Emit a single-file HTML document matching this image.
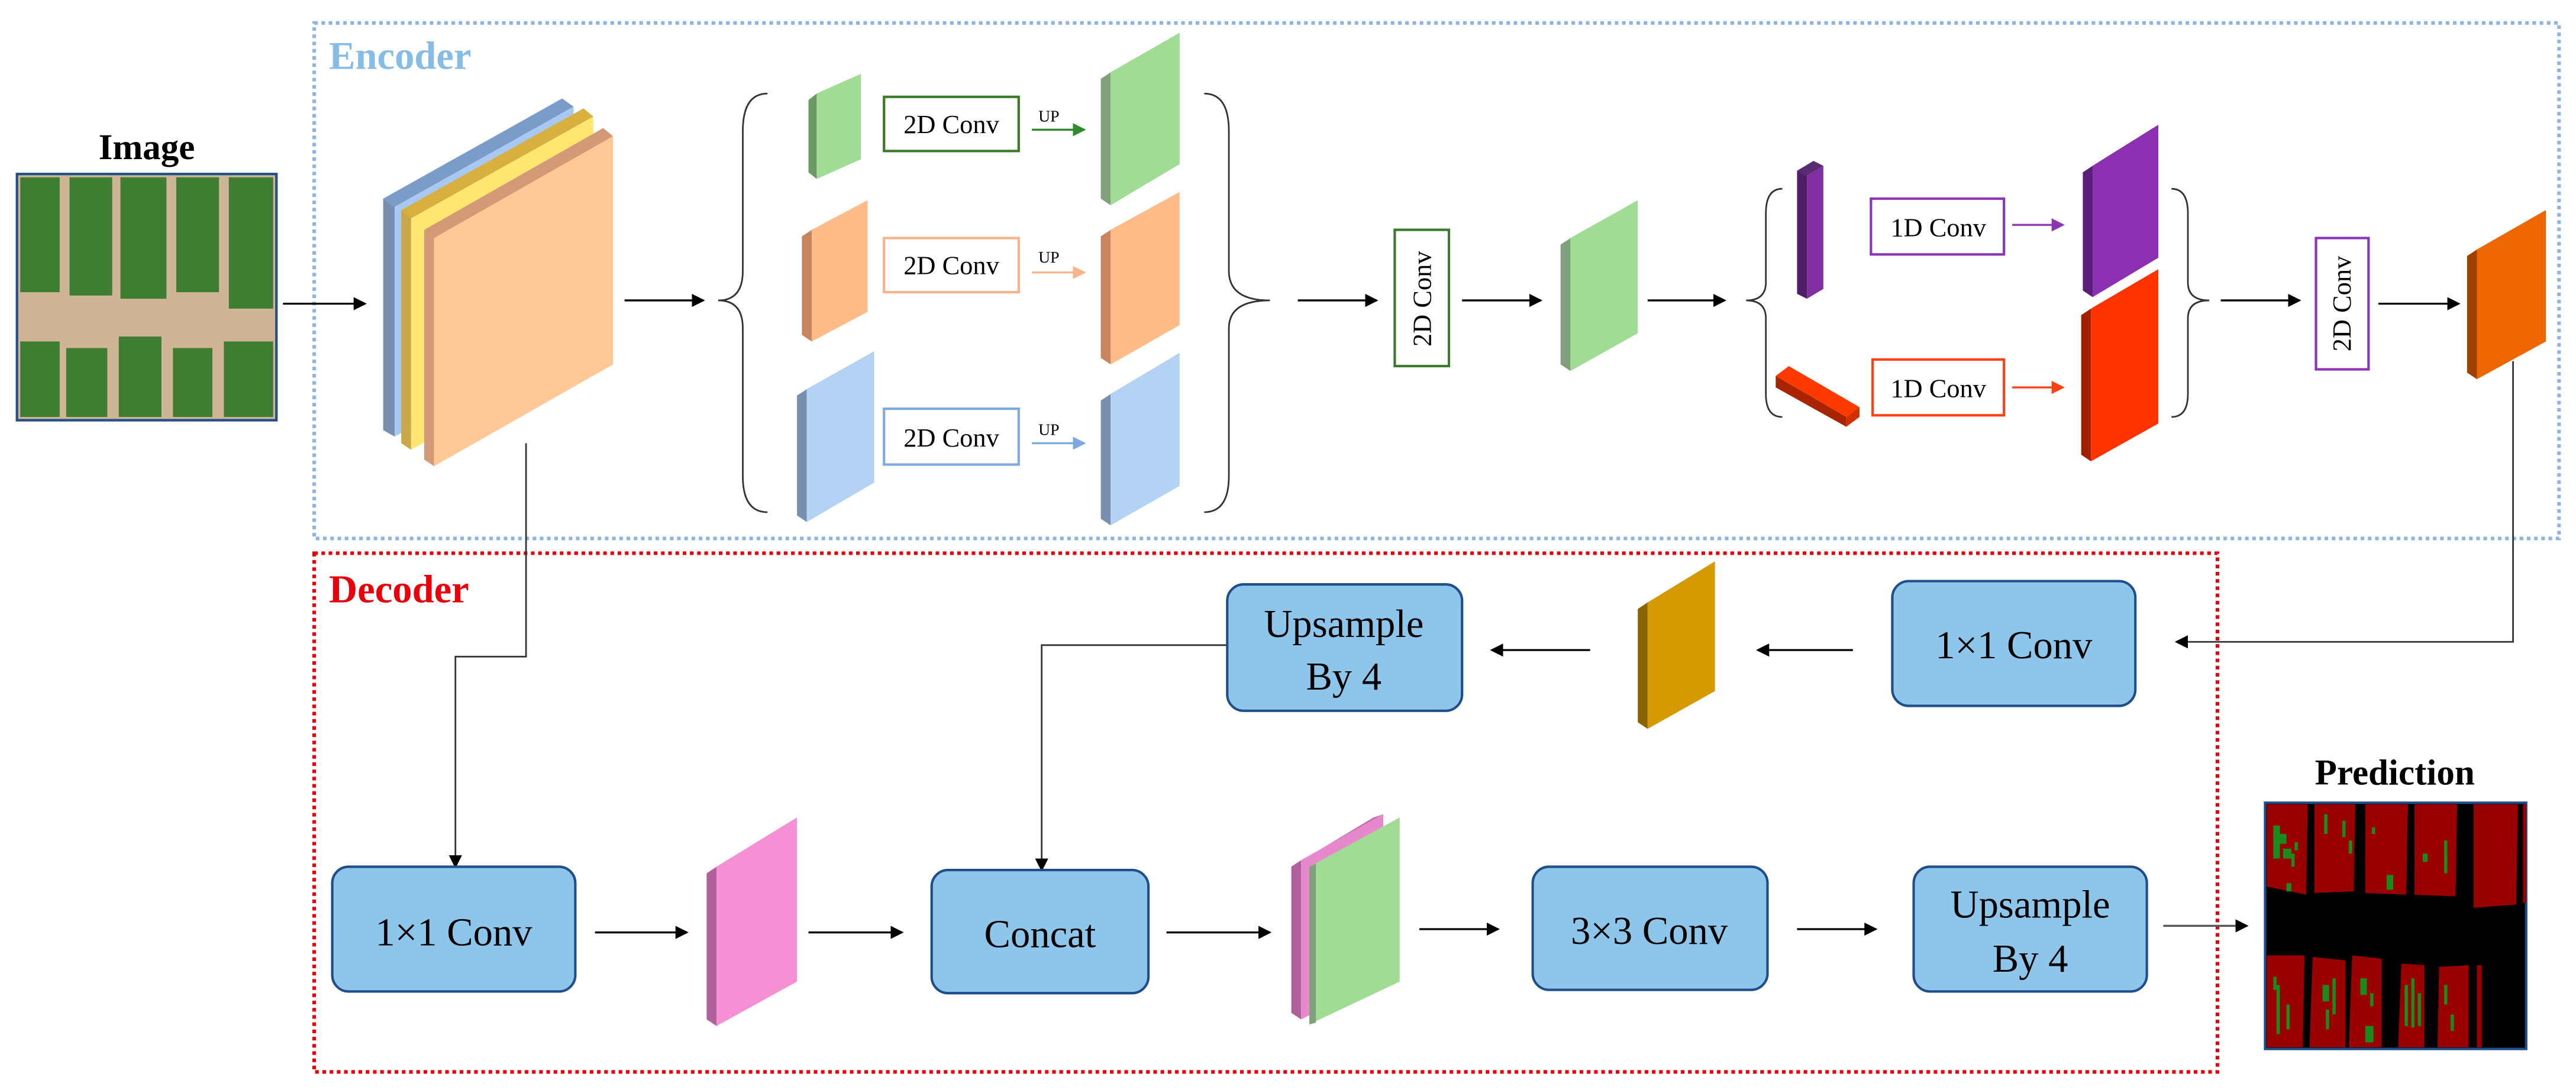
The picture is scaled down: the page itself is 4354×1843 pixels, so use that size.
<!DOCTYPE html>
<html><head><meta charset="utf-8"><style>html,body{margin:0;padding:0;background:#fff}svg{display:block}</style></head>
<body>
<svg xmlns="http://www.w3.org/2000/svg" width="4354" height="1843" viewBox="0 0 1568 664" font-family="'Liberation Serif', serif">
<defs>
<marker id="ak" markerWidth="8" markerHeight="8" refX="7" refY="4" orient="auto" markerUnits="userSpaceOnUse"><path d="M0,0 L8,4 L0,8 z" fill="#000"/></marker>
<marker id="ag" markerWidth="8" markerHeight="8" refX="7" refY="4" orient="auto" markerUnits="userSpaceOnUse"><path d="M0,0 L8,4 L0,8 z" fill="#2e8b2e"/></marker>
<marker id="ao" markerWidth="8" markerHeight="8" refX="7" refY="4" orient="auto" markerUnits="userSpaceOnUse"><path d="M0,0 L8,4 L0,8 z" fill="#f8b488"/></marker>
<marker id="ab" markerWidth="8" markerHeight="8" refX="7" refY="4" orient="auto" markerUnits="userSpaceOnUse"><path d="M0,0 L8,4 L0,8 z" fill="#7ea8e0"/></marker>
<marker id="ap" markerWidth="8" markerHeight="8" refX="7" refY="4" orient="auto" markerUnits="userSpaceOnUse"><path d="M0,0 L8,4 L0,8 z" fill="#8a35b5"/></marker>
<marker id="ar" markerWidth="8" markerHeight="8" refX="7" refY="4" orient="auto" markerUnits="userSpaceOnUse"><path d="M0,0 L8,4 L0,8 z" fill="#ff4010"/></marker>
</defs>

<rect x="191" y="14" width="1367" height="314" fill="none" stroke="#8fb4e3" stroke-width="2.2" stroke-dasharray="2.2,2.2"/>
<text x="200" y="42" font-size="24" font-weight="bold" fill="#86bde6">Encoder</text>
<rect x="191" y="337" width="1159" height="316" fill="none" stroke="#e8000b" stroke-width="2.2" stroke-dasharray="2.2,2.2"/>
<text x="200" y="367" font-size="24" font-weight="bold" fill="#e8000b">Decoder</text>

<text x="89" y="97" font-size="22" font-weight="bold" text-anchor="middle">Image</text>
<rect x="10" y="106" width="158" height="150" fill="#cdb596" stroke="#1f4e8a" stroke-width="1.5"/>
<g fill="#3e7d32">
<rect x="12" y="108" width="24" height="70"/><rect x="42" y="108" width="26" height="72"/><rect x="73" y="108" width="28" height="74"/><rect x="107" y="108" width="26" height="70"/><rect x="139" y="108" width="27" height="80"/>
<rect x="12" y="208" width="24" height="46"/><rect x="40" y="212" width="25" height="42"/><rect x="72" y="205" width="26" height="49"/><rect x="105" y="212" width="24" height="42"/><rect x="136" y="208" width="30" height="46"/>
</g>

<line x1="172" y1="185" x2="222" y2="185" stroke="#000" stroke-width="1.2" marker-end="url(#ak)"/>

<g stroke-width="1">
<polygon points="233,121 240,126 240,266 233,262" fill="#7890b0"/><polygon points="233,121 342,60 349,65 240,126" fill="#7a9cc8"/><polygon points="240,126 349,65 349,205 240,266" fill="#a8c8f2"/>
<polygon points="244,128 250,133 250,274 244,270" fill="#c8a848"/><polygon points="244,128 355,66 361,71 250,133" fill="#d8b040"/><polygon points="250,133 361,71 361,212 250,274" fill="#ffe670"/>
<polygon points="258,140 264,145 264,284 258,280" fill="#d49a78"/><polygon points="258,140 367,78 373,83 264,145" fill="#d49a78"/><polygon points="264,145 373,83 373,222 264,284" fill="#ffc896"/>
</g>
<line x1="380" y1="183" x2="428" y2="183" stroke="#000" stroke-width="1.2" marker-end="url(#ak)"/>

<path d="M467,57 Q452,57 452,80 L452,165 Q452,183 437,183 Q452,183 452,200 L452,290 Q452,312 467,312" fill="none" stroke="#333" stroke-width="1"/>

<polygon points="492,61 497,57 497,109 492,105" fill="#6a9a60"/><polygon points="492,61 519,49 524,45 497,57" fill="#6a9a60"/><polygon points="497,57 524,45 524,97 497,109" fill="#a0dc94"/>
<rect x="538" y="59" width="82" height="33" fill="#fff" stroke="#3a7a2a" stroke-width="1.5"/>
<text x="579" y="81" font-size="16" text-anchor="middle">2D Conv</text>
<text x="632" y="74" font-size="10">UP</text>
<line x1="628" y1="79" x2="660" y2="79" stroke="#2e8b2e" stroke-width="1.2" marker-end="url(#ag)"/>
<polygon points="670,48 676,44 676,125 670,121" fill="#7fa07a"/><polygon points="670,48 712,24 718,20 676,44" fill="#8ab884"/><polygon points="676,44 718,20 718,100 676,125" fill="#a0dc94"/>

<polygon points="488,144 494,140 494,208 488,204" fill="#c8845e"/><polygon points="488,144 522,126 528,122 494,140" fill="#d49070"/><polygon points="494,140 528,122 528,190 494,208" fill="#ffbb88"/>
<rect x="538" y="145" width="82" height="33" fill="#fff" stroke="#f8b488" stroke-width="1.5"/>
<text x="579" y="167" font-size="16" text-anchor="middle">2D Conv</text>
<text x="632" y="160" font-size="10">UP</text>
<line x1="628" y1="166" x2="660" y2="166" stroke="#f8b488" stroke-width="1.2" marker-end="url(#ao)"/>
<polygon points="670,144 676,140 676,222 670,218" fill="#c8845e"/><polygon points="670,144 712,121 718,117 676,140" fill="#d49070"/><polygon points="676,140 718,117 718,198 676,222" fill="#ffbb88"/>

<polygon points="485,241 491,237 491,318 485,314" fill="#7890b0"/><polygon points="485,241 526,218 532,214 491,237" fill="#8aa4c8"/><polygon points="491,237 532,214 532,294 491,318" fill="#b4d2f4"/>
<rect x="538" y="249" width="82" height="34" fill="#fff" stroke="#7ea8e0" stroke-width="1.5"/>
<text x="579" y="272" font-size="16" text-anchor="middle">2D Conv</text>
<text x="632" y="265" font-size="10">UP</text>
<line x1="628" y1="270" x2="660" y2="270" stroke="#7ea8e0" stroke-width="1.2" marker-end="url(#ab)"/>
<polygon points="670,244 676,240 676,320 670,316" fill="#7890b0"/><polygon points="670,244 712,219 718,215 676,240" fill="#8aa4c8"/><polygon points="676,240 718,215 718,296 676,320" fill="#b4d2f4"/>

<path d="M733,57 Q748,57 748,80 L748,165 Q748,183 773,183 Q748,183 748,200 L748,290 Q748,312 733,312" fill="none" stroke="#333" stroke-width="1"/>
<line x1="790" y1="183" x2="838" y2="183" stroke="#000" stroke-width="1.2" marker-end="url(#ak)"/>

<rect x="849" y="140" width="33" height="83" fill="#fff" stroke="#3a7a2a" stroke-width="1.5"/>
<text x="871" y="182" font-size="16" text-anchor="middle" transform="rotate(-90 871 182)">2D Conv</text>
<line x1="890" y1="183" x2="938" y2="183" stroke="#000" stroke-width="1.2" marker-end="url(#ak)"/>
<polygon points="950,149 956,145 956,226 950,222" fill="#7fa07a"/><polygon points="950,149 991,126 997,122 956,145" fill="#8ab884"/><polygon points="956,145 997,122 997,203 956,226" fill="#a0dc94"/>
<line x1="1003" y1="183" x2="1050" y2="183" stroke="#000" stroke-width="1.2" marker-end="url(#ak)"/>

<path d="M1085,115 Q1075,115 1075,130 L1075,172 Q1075,183 1063,183 Q1075,183 1075,194 L1075,240 Q1075,254 1085,254" fill="none" stroke="#333" stroke-width="1"/>
<polygon points="1094,104 1100,107 1100,182 1094,179" fill="#4e1e66"/><polygon points="1094,104 1104,98 1110,101 1100,107" fill="#5a2a72"/><polygon points="1100,107 1110,101 1110,176 1100,182" fill="#8030a0"/>
<rect x="1139" y="121" width="81" height="34" fill="#fff" stroke="#8a35b5" stroke-width="1.5"/>
<text x="1180" y="144" font-size="16" text-anchor="middle">1D Conv</text>
<line x1="1225" y1="137" x2="1256" y2="137" stroke="#8a35b5" stroke-width="1.2" marker-end="url(#ap)"/>
<polygon points="1268,105 1274,101 1274,181 1268,177" fill="#5a1e7a"/><polygon points="1268,105 1308,80 1314,76 1274,101" fill="#6a2490"/><polygon points="1274,101 1314,76 1314,157 1274,181" fill="#8a30b0"/>

<polygon points="1081,229 1089,223 1132,248 1124,254" fill="#ff3a00"/><polygon points="1081,229 1124,254 1124,260 1081,236" fill="#a82400"/><polygon points="1124,254 1132,248 1132,254 1124,260" fill="#d03000"/>
<rect x="1140" y="219" width="80" height="34" fill="#fff" stroke="#ff4010" stroke-width="1.5"/>
<text x="1180" y="242" font-size="16" text-anchor="middle">1D Conv</text>
<line x1="1225" y1="236" x2="1256" y2="236" stroke="#ff4010" stroke-width="1.2" marker-end="url(#ar)"/>
<polygon points="1267,192 1273,188 1273,281 1267,277" fill="#a02000"/><polygon points="1267,192 1308,168 1314,164 1273,188" fill="#b82800"/><polygon points="1273,188 1314,164 1314,258 1273,281" fill="#ff3300"/>

<path d="M1322,115 Q1332,115 1332,130 L1332,172 Q1332,183 1345,183 Q1332,183 1332,194 L1332,240 Q1332,254 1322,254" fill="none" stroke="#333" stroke-width="1"/>
<line x1="1352" y1="183" x2="1400" y2="183" stroke="#000" stroke-width="1.2" marker-end="url(#ak)"/>
<rect x="1410" y="145" width="32" height="80" fill="#fff" stroke="#8a35b5" stroke-width="1.5"/>
<text x="1431" y="185" font-size="16" text-anchor="middle" transform="rotate(-90 1431 185)">2D Conv</text>
<line x1="1448" y1="185" x2="1497" y2="185" stroke="#000" stroke-width="1.2" marker-end="url(#ak)"/>
<polygon points="1502,156 1508,152 1508,231 1502,227" fill="#a04000"/><polygon points="1502,156 1544,132 1550,128 1508,152" fill="#b84800"/><polygon points="1508,152 1550,128 1550,208 1508,231" fill="#ee6600"/>

<polyline points="1530,220 1530,391 1325,391" fill="none" stroke="#333" stroke-width="1" marker-end="url(#ak)"/>
<polyline points="320,270 320,400 277,400 277,528" fill="none" stroke="#333" stroke-width="1" marker-end="url(#ak)"/>
<polyline points="748,393 634,393 634,530" fill="none" stroke="#333" stroke-width="1" marker-end="url(#ak)"/>

<g font-size="24" text-anchor="middle">
<rect x="1152" y="354" width="148" height="76" rx="10" fill="#8ec5ea" stroke="#1f4e8a" stroke-width="1.5"/>
<text x="1226" y="401">1×1 Conv</text>
<line x1="1128" y1="396" x2="1070" y2="396" stroke="#000" stroke-width="1.2" marker-end="url(#ak)"/>
<polygon points="997,371 1003,367 1003,444 997,440" fill="#8a6400"/><polygon points="997,371 1038,346 1044,342 1003,367" fill="#9a7000"/><polygon points="1003,367 1044,342 1044,421 1003,444" fill="#d49a00"/>
<line x1="968" y1="396" x2="908" y2="396" stroke="#000" stroke-width="1.2" marker-end="url(#ak)"/>
<rect x="747" y="356" width="143" height="77" rx="10" fill="#8ec5ea" stroke="#1f4e8a" stroke-width="1.5"/>
<text x="818" y="388">Upsample</text><text x="818" y="420">By 4</text>

<rect x="202" y="528" width="148" height="76" rx="10" fill="#8ec5ea" stroke="#1f4e8a" stroke-width="1.5"/>
<text x="276" y="576">1×1 Conv</text>
<line x1="362" y1="568" x2="418" y2="568" stroke="#000" stroke-width="1.2" marker-end="url(#ak)"/>
<polygon points="430,532 436,528 436,625 430,621" fill="#b0609a"/><polygon points="430,532 479,502 485,498 436,528" fill="#c070a8"/><polygon points="436,528 485,498 485,598 436,625" fill="#f590d4"/>
<line x1="492" y1="568" x2="549" y2="568" stroke="#000" stroke-width="1.2" marker-end="url(#ak)"/>
<rect x="567" y="530" width="132" height="75" rx="10" fill="#8ec5ea" stroke="#1f4e8a" stroke-width="1.5"/>
<text x="633" y="577">Concat</text>
<line x1="710" y1="568" x2="773" y2="568" stroke="#000" stroke-width="1.2" marker-end="url(#ak)"/>
<polygon points="786,528 792,524 792,621 786,617" fill="#b0609a"/><polygon points="786,528 836,498 842,496 792,524" fill="#c070a8"/><polygon points="792,524 842,496 842,596 792,621" fill="#e888cc"/>
<polygon points="797,528 852,498 852,598 797,624" fill="#a0dc94"/><polygon points="797,528 801,526 801,623 797,624" fill="#7fa07a"/>
<line x1="864" y1="566" x2="912" y2="566" stroke="#000" stroke-width="1.2" marker-end="url(#ak)"/>
<rect x="933" y="528" width="143" height="75" rx="10" fill="#8ec5ea" stroke="#1f4e8a" stroke-width="1.5"/>
<text x="1004" y="575">3×3 Conv</text>
<line x1="1094" y1="566" x2="1142" y2="566" stroke="#000" stroke-width="1.2" marker-end="url(#ak)"/>
<rect x="1165" y="528" width="142" height="76" rx="10" fill="#8ec5ea" stroke="#1f4e8a" stroke-width="1.5"/>
<text x="1236" y="559">Upsample</text><text x="1236" y="592">By 4</text>
</g>
<line x1="1317" y1="564" x2="1368" y2="564" stroke="#555" stroke-width="1.2" marker-end="url(#ak)"/>

<text x="1458" y="478" font-size="22" font-weight="bold" text-anchor="middle">Prediction</text>
<rect x="1379" y="489" width="159" height="150" fill="#000" stroke="#1f4e8a" stroke-width="1.5"/>
<g fill="#990000">
<path d="M1380,490 L1405,490 L1404,545 L1380,540 Z"/>
<path d="M1409,490 L1434,490 L1433,543 L1409,544 Z"/>
<path d="M1440,490 L1466,490 L1465,545 L1440,544 Z"/>
<path d="M1470,490 L1496,490 L1495,546 L1470,545 Z"/>
<path d="M1506,490 L1533,490 L1532,551 L1506,553 Z"/>
<path d="M1536,490 L1538,490 L1538,550 L1536,550 Z"/>
<path d="M1380,582 L1403,582 L1402,638 L1380,638 Z"/>
<path d="M1408,583 L1428,585 L1428,638 L1406,638 Z"/>
<path d="M1432,582 L1450,584 L1450,638 L1430,638 Z"/>
<path d="M1462,587 L1476,588 L1476,638 L1460,638 Z"/>
<path d="M1485,589 L1503,588 L1503,638 L1484,638 Z"/>
<path d="M1508,588 L1511,588 L1511,638 L1508,638 Z"/>
</g>
<g fill="#1a8c1a">
<rect x="1384" y="503" width="4" height="20"/><rect x="1388" y="508" width="4" height="6"/><rect x="1390" y="517" width="5" height="6"/><rect x="1395" y="520" width="2" height="8"/>
<rect x="1392" y="538" width="3" height="5"/><rect x="1397" y="513" width="2" height="5"/>
<rect x="1415" y="496" width="2" height="12"/><rect x="1426" y="500" width="2" height="10"/><rect x="1430" y="512" width="2" height="8"/>
<rect x="1453" y="533" width="4" height="9"/><rect x="1444" y="504" width="2" height="4"/>
<rect x="1475" y="520" width="3" height="5"/><rect x="1488" y="512" width="2" height="20"/>
<rect x="1386" y="600" width="2" height="30"/><rect x="1392" y="612" width="2" height="15"/><rect x="1384" y="595" width="2" height="8"/>
<rect x="1414" y="600" width="4" height="10"/><rect x="1420" y="596" width="2" height="22"/><rect x="1416" y="615" width="2" height="12"/>
<rect x="1437" y="596" width="4" height="10"/><rect x="1440" y="625" width="5" height="10"/><rect x="1443" y="605" width="2" height="8"/>
<rect x="1464" y="600" width="2" height="25"/><rect x="1468" y="596" width="2" height="30"/><rect x="1472" y="605" width="2" height="20"/>
<rect x="1488" y="600" width="2" height="12"/><rect x="1492" y="618" width="2" height="10"/>
</g>
</svg>
</body></html>
